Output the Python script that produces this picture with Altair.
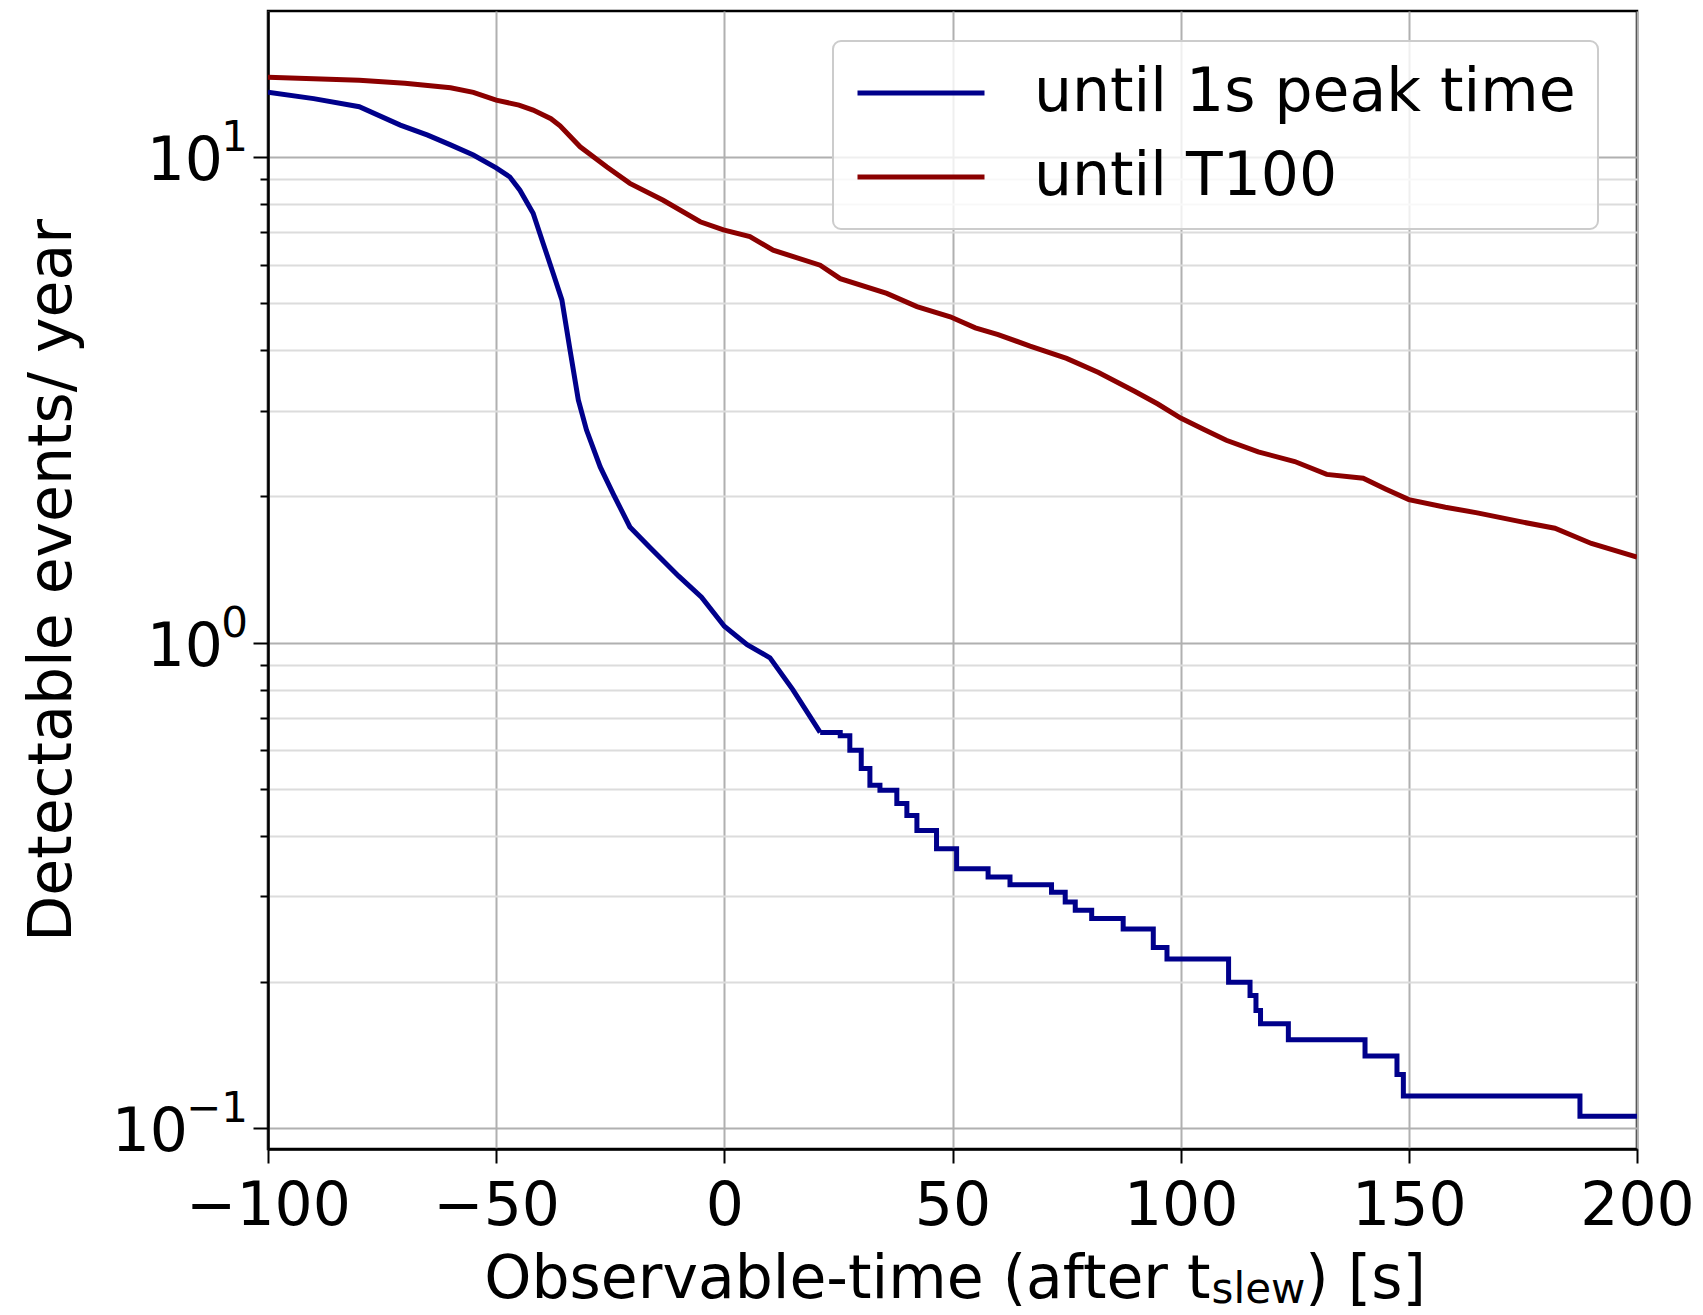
import altair as alt
import pandas as pd

series_names = ["until 1s peak time", "until T100"]
series_colors = ["#00008b", "#8b0000"]

# blue curve (until 1s peak time): smooth part
blue_smooth_x = [-100, -90, -80, -71, -65, -60, -55, -50, -47, -44.8, -41.9, -39.7, -37.5,
                 -35.6, -33.8, -32, -30.2, -27.2, -24.3, -20.7, -16.3, -10, -5, 0, 5, 10, 15, 21]
blue_smooth_y = [13.6, 13.2, 12.7, 11.64, 11.1, 10.6, 10.1, 9.5, 9.1, 8.55, 7.66, 6.64, 5.76,
                 5.08, 4.0, 3.16, 2.74, 2.30, 2.02, 1.73, 1.57, 1.37, 1.24, 1.08, 0.99, 0.93, 0.80, 0.653]
# blue curve: stepped tail
blue_step_x = [21, 25.4, 27.5, 30, 31.9, 34.1, 37.8, 40, 42.2, 46.5, 50.9, 57.8, 62.6, 71.7, 74.7,
               76.9, 80.5, 87.4, 94.0, 97, 110.5, 115.2, 116.5, 117.5, 123.6, 140.4, 147.4, 148.8,
               187.5, 200]
blue_step_y = [0.653, 0.643, 0.60, 0.55, 0.508, 0.496, 0.466, 0.44, 0.41, 0.376, 0.342, 0.329, 0.317,
               0.306, 0.292, 0.281, 0.27, 0.257, 0.2355, 0.223, 0.1996, 0.1875, 0.1746, 0.164, 0.152,
               0.1406, 0.1288, 0.1163, 0.1057, 0.1057]
# red curve (until T100)
red_x = [-100, -90, -80, -70, -60, -55, -50, -45, -41.9, -38, -36, -31.6, -25.8, -20.7, -13.4, -5.3,
         -0.2, 5.6, 10.7, 21, 25.4, 35.6, 42.2, 49.5, 55, 60, 67, 75, 82, 90, 95, 100, 105, 110, 117,
         125, 132, 140, 145, 150, 158, 165, 175, 182, 190, 200]
red_y = [14.6, 14.5, 14.4, 14.2, 13.9, 13.6, 13.1, 12.8, 12.5, 12.0, 11.6, 10.5, 9.55, 8.83, 8.15, 7.36,
         7.08, 6.86, 6.43, 5.99, 5.62, 5.24, 4.92, 4.69, 4.45, 4.31, 4.08, 3.85, 3.6, 3.29, 3.1, 2.90, 2.75,
         2.61, 2.47, 2.36, 2.22, 2.18, 2.07, 1.97, 1.9, 1.85, 1.77, 1.72, 1.60, 1.50]

x_ticks = [-100, -50, 0, 50, 100, 150, 200]
y_ticks = [0.1, 0.2, 0.3, 0.4, 0.5, 0.6, 0.7, 0.8, 0.9, 1, 2, 3, 4, 5, 6, 7, 8, 9, 10]
decade_values = [10, 1, 0.1]
decade_mantissa = ["10", "10", "10"]
decade_exponents = ["1", "0", "\u22121"]

rows = []
for x, y in zip(blue_smooth_x, blue_smooth_y):
    rows.append({"t": x, "rate": y, "series": series_names[0], "seg": "smooth"})
for x, y in zip(blue_step_x, blue_step_y):
    rows.append({"t": x, "rate": y, "series": series_names[0], "seg": "step"})
for x, y in zip(red_x, red_y):
    rows.append({"t": x, "rate": y, "series": series_names[1], "seg": "smooth"})
df = pd.DataFrame(rows)

labels_df = pd.DataFrame({"rate": decade_values, "mant": decade_mantissa, "exp": decade_exponents})

FONT = "DejaVu Sans"
FS = 60
SUB = 42
major_test = "datum.value == 0.1 || datum.value == 1 || datum.value == 10"

yscale = alt.Scale(type="log", domain=[0.0905, 20], nice=False)
xscale = alt.Scale(domain=[-100, 200], nice=False, zero=False)

xenc = alt.X("t:Q", scale=xscale,
             axis=alt.Axis(values=x_ticks, title=None, labelPadding=14, tickSize=14,
                           labelFlush=False, labelOverlap=False))
yaxis = alt.Axis(values=y_ticks, title="Detectable events/ year",
                 labels=False,
                 tickSize={"condition": {"test": major_test, "value": 15}, "value": 8},
                 gridColor={"condition": {"test": major_test, "value": "#b0b0b0"}, "value": "#dcdcdc"},
                 titleX=-185, titleY=569, titleAngle=270, titleBaseline="bottom",
                 titleAlign="center")
yenc = alt.Y("rate:Q", scale=yscale, axis=yaxis)
color = alt.Color("series:N",
                  scale=alt.Scale(domain=series_names, range=series_colors),
                  legend=alt.Legend(title=None, orient="none", legendX=565, legendY=30,
                                    symbolType="stroke", symbolSize=127 * 127, symbolStrokeWidth=5,
                                    labelFont=FONT, labelFontSize=FS, labelColor="black",
                                    labelOffset=47, labelLimit=1000, clipHeight=60, rowPadding=24,
                                    padding=22, fillColor="rgba(255,255,255,0.8)",
                                    strokeColor="#cccccc", cornerRadius=8))

base = alt.Chart(df)
smooth = base.transform_filter(alt.datum.seg == "smooth").mark_line(
    strokeWidth=5, clip=True).encode(x=xenc, y=yenc, color=color)
step = base.transform_filter(alt.datum.seg == "step").mark_line(
    strokeWidth=5, clip=True, interpolate="step-after").encode(x=xenc, y=yenc, color=color)

# y tick labels 10^k drawn as mantissa + raised exponent, positioned by the y scale
ylab = alt.Chart(labels_df)
exp_txt = ylab.mark_text(font=FONT, fontSize=SUB, align="right", baseline="alphabetic",
                         color="black", dy=-6).encode(
    y=yenc, x=alt.value(-20), text="exp:N")
mant_pos = ylab.transform_filter(alt.datum.rate >= 1).mark_text(
    font=FONT, fontSize=FS, align="right", baseline="alphabetic", color="black", dy=23).encode(
    y=yenc, x=alt.value(-45), text="mant:N")
mant_neg = ylab.transform_filter(alt.datum.rate < 1).mark_text(
    font=FONT, fontSize=FS, align="right", baseline="alphabetic", color="black", dy=23).encode(
    y=yenc, x=alt.value(-80), text="mant:N")

one = pd.DataFrame({"a": [0]})
t1 = alt.Chart(one).mark_text(text="Observable-time (after t", font=FONT, fontSize=FS,
                              align="right", baseline="alphabetic", color="black").encode(
    x=alt.value(942.6), y=alt.value(1287))
t2 = alt.Chart(one).mark_text(text="slew", font=FONT, fontSize=SUB,
                              align="left", baseline="alphabetic", color="black").encode(
    x=alt.value(943.6), y=alt.value(1292))
t3 = alt.Chart(one).mark_text(text=") [s]", font=FONT, fontSize=FS,
                              align="left", baseline="alphabetic", color="black").encode(
    x=alt.value(1037.3), y=alt.value(1287))

chart = alt.layer(smooth, step, exp_txt, mant_pos, mant_neg, t1, t2, t3).properties(
    width=1369, height=1138,
    autosize=alt.AutoSizeParams(type="none"),
    padding={"left": 268, "top": 11, "right": 66, "bottom": 166},
    background="white",
).configure_view(
    stroke="black", strokeWidth=2.5
).configure_axis(
    labelFont=FONT, labelFontSize=FS, labelColor="black",
    titleFont=FONT, titleFontSize=FS, titleColor="black", titleFontWeight="normal",
    domainColor="black", domainWidth=2.5, tickColor="black", tickWidth=2,
    gridColor="#b0b0b0", gridWidth=2, grid=True,
).configure_legend(
    strokeWidth=2
)

chart.save("out.html", embed_options={"renderer": "svg", "actions": False})
